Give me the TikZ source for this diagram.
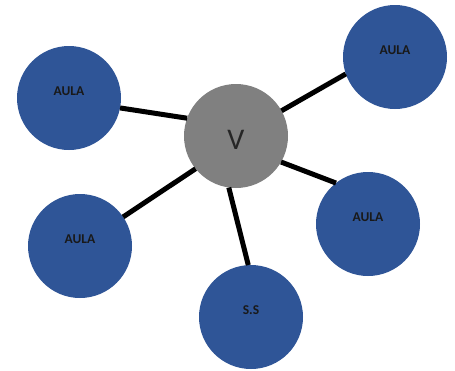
\documentclass[tikz,border=0pt]{standalone}
\usepackage{fontspec}
\setmainfont{Carlito}
\definecolor{aulablue}{RGB}{47,85,151}
\definecolor{hubgray}{RGB}{128,128,128}

\begin{document}
\begin{tikzpicture}[
  x=1pt, y=1pt,
  room/.style={
    circle,
    fill=aulablue,
    minimum size=104pt,
    inner sep=0pt,
    outer sep=0pt,
    font=\fontsize{13.5}{14}\selectfont\bfseries,
    text=black!90,
    text depth=14pt
  },
  hub/.style={
    circle,
    fill=hubgray,
    minimum size=104pt,
    inner sep=0pt,
    outer sep=0pt,
    font=\fontsize{30}{30}\selectfont,
    text=black!85,
    text height=27pt
  },
  link/.style={line width=5pt}
]
\useasboundingbox (0,0) rectangle (455,-370);

\node[hub] (v) at (236,-136) {V};

\node[room] (tl) at (69,-98) {AULA};
\node[room] (tr) at (395,-57) {AULA};
\node[room] (rt) at (368,-224) {AULA};
\node[room] (bl) at (80,-246) {AULA};
\node[room] (ss) at (251,-317) {S.S};

% connections to the hub
\draw[link] (v.160) -- (tl.-11);
\draw[link] (v.29) -- (tr.199);
\draw[link] (v.-30) -- (rt.128);
\draw[link] (v.219) -- (bl.34);
\draw[link] (v.262) -- (ss.93);

\end{tikzpicture}
\end{document}
